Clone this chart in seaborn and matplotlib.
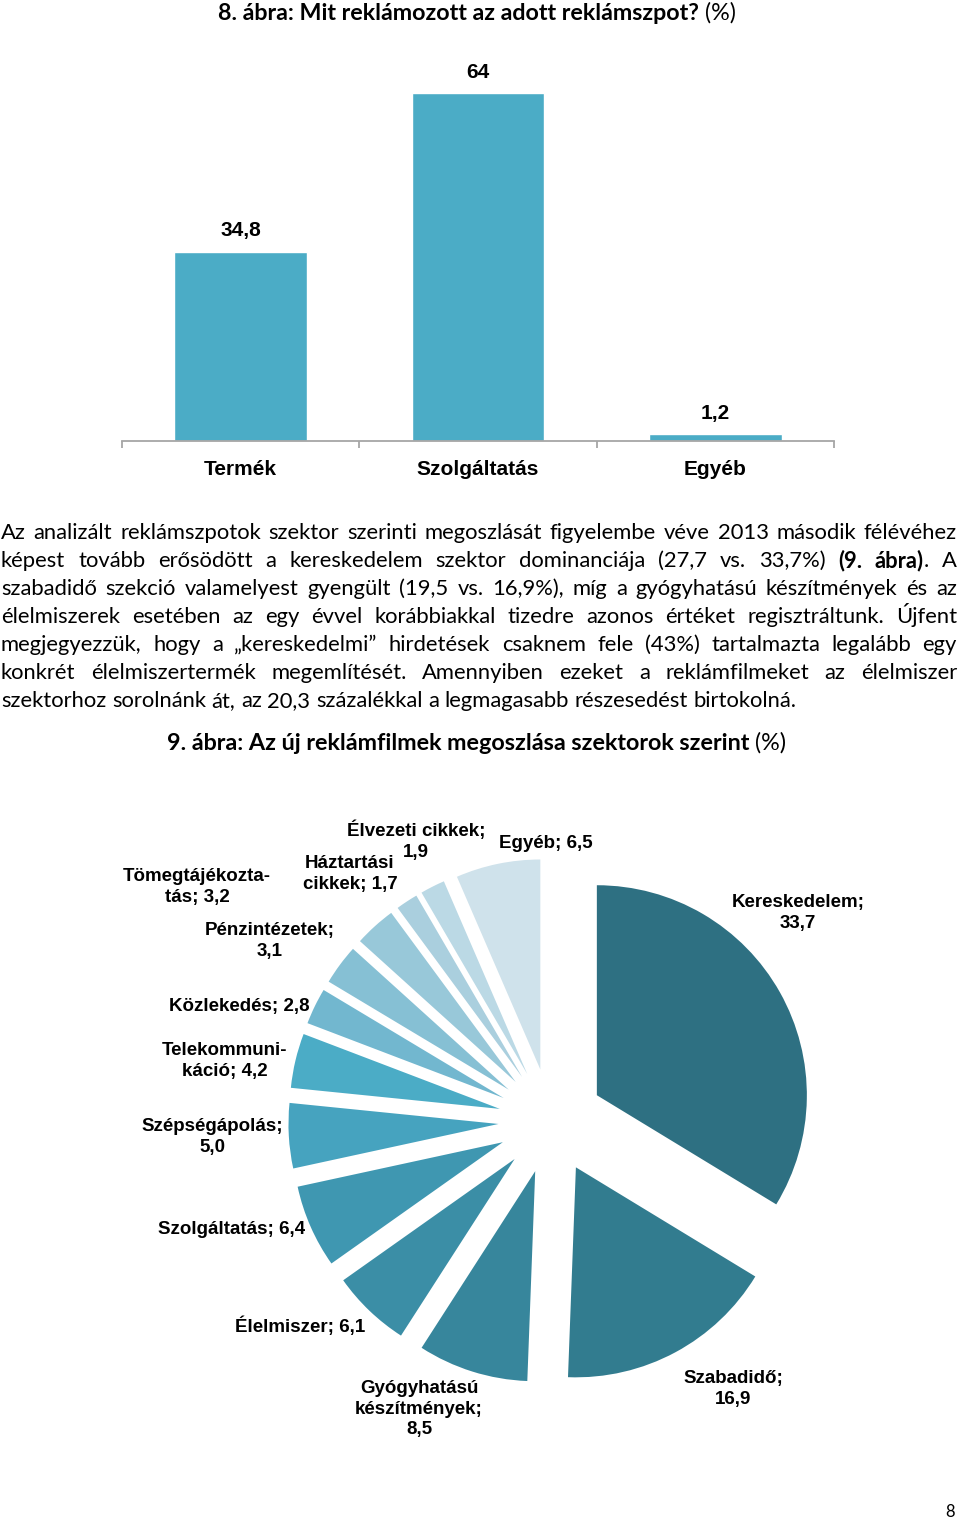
import matplotlib
matplotlib.use("Agg")
import matplotlib.pyplot as plt
import numpy as np
import pandas as pd
import seaborn as sns

# ---------------- data ----------------
bar_categories = ["Termék", "Szolgáltatás", "Egyéb"]
bar_values = [34.8, 64.0, 1.2]
bar_value_labels = ["34,8", "64", "1,2"]

pie_sectors = ["Kereskedelem", "Szabadidő", "Gyógyhatású\nkészítmények", "Élelmiszer",
               "Szolgáltatás", "Szépségápolás", "Telekommuni-\nkáció", "Közlekedés",
               "Pénzintézetek", "Tömegtájékozta-\ntás", "Háztartási\ncikkek",
               "Élvezeti cikkek", "Egyéb"]
pie_values = [33.7, 16.9, 8.5, 6.1, 6.4, 5.0, 4.2, 2.8, 3.1, 3.2, 1.7, 1.9, 6.5]
pie_value_labels = ["33,7", "16,9", "8,5", "6,1", "6,4", "5,0", "4,2", "2,8", "3,1",
                    "3,2", "1,7", "1,9", "6,5"]
pie_value_newline = [True, True, True, False, False, True, False, False, True,
                     False, False, True, False]

title1 = [("8. ábra: Mit reklámozott az adott reklámszpot?", "bold"), (" (%)", "normal")]
title2 = [("9. ábra: Az új reklámfilmek megoszlása szektorok szerint", "bold"), (" (%)", "normal")]

paragraph_lines = [
    "Az analizált reklámszpotok szektor szerinti megoszlását figyelembe véve 2013 második félévéhez",
    "képest tovább erősödött a kereskedelem szektor dominanciája (27,7 vs. 33,7%) **(9.** **ábra)**. A",
    "szabadidő szekció valamelyest gyengült (19,5 vs. 16,9%), míg a gyógyhatású készítmények és az",
    "élelmiszerek esetében az egy évvel korábbiakkal tizedre azonos értéket regisztráltunk. Újfent",
    "megjegyezzük, hogy a „kereskedelmi” hirdetések csaknem fele (43%) tartalmazta legalább egy",
    "konkrét élelmiszertermék megemlítését. Amennyiben ezeket a reklámfilmeket az élelmiszer",
    "szektorhoz sorolnánk át, az 20,3 százalékkal a legmagasabb részesedést birtokolná.",
]

# ---------------- style / layout ----------------
W, H = 960, 1519
sns.set_theme(style="white")
plt.rcParams['font.family'] = ['Liberation Sans', 'DejaVu Sans']
plt.rcParams['text.color'] = 'black'
plt.rcParams['xtick.color'] = 'black'
plt.rcParams['axes.labelcolor'] = 'black'

PARA_FONT = ['Lato', 'DejaVu Sans']
TITLE_FONT = ['Lato', 'DejaVu Sans']

pie_colors = ["#2E7082", "#327C8F", "#37869C", "#3B8EA6", "#3F97B1", "#46A3BF",
              "#4BACC6", "#72B7CF", "#86C0D4", "#98C8D9", "#AACFDE", "#BBD9E5", "#CFE2EB"]
pie_label_pos = [(798, 913), (733, 1389), (419, 1409), (300, 1326), (232, 1229),
                 (212, 1137), (225, 1061), (239, 1006), (270, 941), (197, 887),
                 (350, 874), (416, 841), (546, 844)]

fig = plt.figure(figsize=(W / 100, H / 100), dpi=100)
fig.patch.set_facecolor("white")
renderer = fig.canvas.get_renderer()


def fx(x):
    return x / W


def fy(y):
    return 1 - y / H


def measure(txt, size, weight, family):
    t = fig.text(0, 0, txt, fontsize=size, fontweight=weight, family=family)
    w = t.get_window_extent(renderer).width
    t.remove()
    return w


# ---------------- pie chart ----------------
ax_p = fig.add_axes([0, 0, 1, 1])
ax_p.pie(pie_values, colors=pie_colors, startangle=90, counterclock=False,
         radius=210, center=(551, H - 1121), explode=[52.6] * len(pie_values),
         wedgeprops=dict(linewidth=0))
ax_p.set_xlim(0, W)
ax_p.set_ylim(0, H)
ax_p.set_aspect("equal")
ax_p.axis("off")

for name, val, nl, (px, py) in zip(pie_sectors, pie_value_labels, pie_value_newline, pie_label_pos):
    lab = f"{name};\n{val}" if nl else f"{name}; {val}"
    ax_p.text(px, H - py, lab, ha="center", va="center", fontsize=13.5,
              fontweight="bold", linespacing=1.27, color="black")

# ---------------- bar chart ----------------
ax_b = fig.add_axes([fx(122), fy(441), 712 / W, (441 - 60.2) / H])
ax_b.patch.set_alpha(0)
df = pd.DataFrame({"cat": bar_categories, "val": bar_values})
sns.barplot(data=df, x="cat", y="val", color="#4BACC6", width=0.56,
            saturation=1, ax=ax_b)
ax_b.set_xlim(-0.5, 2.5)
ax_b.set_ylim(0, 70)
for s in ["top", "right", "left"]:
    ax_b.spines[s].set_visible(False)
ax_b.spines["bottom"].set_color("#A6A6A6")
ax_b.spines["bottom"].set_linewidth(1.3)
ax_b.set_yticks([])
ax_b.set_xlabel("")
ax_b.set_ylabel("")
ax_b.set_xticks([-0.5, 0.5, 1.5, 2.5])
ax_b.set_xticklabels([])
ax_b.tick_params(axis="x", which="major", length=5, width=1.3, color="#A6A6A6",
                 direction="out", bottom=True)
ax_b.set_xticks([0, 1, 2], minor=True)
ax_b.set_xticklabels(bar_categories, minor=True, fontsize=15, fontweight="bold",
                     color="black")
ax_b.tick_params(axis="x", which="minor", length=0, pad=13.5, bottom=True,
                 labelcolor="black")
for p, lab in zip(ax_b.patches, bar_value_labels):
    ax_b.annotate(lab, (p.get_x() + p.get_width() / 2, p.get_height()),
                  xytext=(0, 15), textcoords="offset points", ha="center",
                  va="center", fontsize=15, fontweight="bold", color="black")


# ---------------- titles ----------------
def draw_runs_centered(runs, cx, base_y, target_w):
    total10 = sum(measure(t, 10, w, TITLE_FONT) for t, w in runs)
    size = 10 * target_w / total10
    x = cx - target_w / 2
    for t, w in runs:
        fig.text(fx(x), fy(base_y), t, fontsize=size, fontweight=w,
                 family=TITLE_FONT, ha="left", va="baseline", color="black")
        x += measure(t, size, w, TITLE_FONT)


draw_runs_centered(title1, 478, 20, 520)
draw_runs_centered(title2, 478, 750, 622)

# ---------------- justified paragraph ----------------
plain_last = paragraph_lines[-1]
para_size = 10 * 797 / measure(plain_last, 10, "normal", PARA_FONT)


def parse_word(word):
    runs = []
    if word.startswith("**") and word.endswith("**"):
        runs.append((word[2:-2], "bold"))
    elif "**" in word:
        parts = word.split("**")
        bold = False
        for part in parts:
            if part:
                runs.append((part, "bold" if bold else "normal"))
            bold = not bold
    else:
        runs.append((word, "normal"))
    return runs


left, right = 1, 957
for i, line in enumerate(paragraph_lines):
    base_y = 539 + 28 * i
    words = [parse_word(w) for w in line.split(" ")]
    widths = [[measure(t, para_size, wt, PARA_FONT) for t, wt in wr] for wr in words]
    if i < len(paragraph_lines) - 1:
        gap = (right - left - sum(sum(w) for w in widths)) / (len(words) - 1)
    else:
        gap = measure("a b", para_size, "normal", PARA_FONT) - \
            measure("ab", para_size, "normal", PARA_FONT)
    x = left
    for wr, ws in zip(words, widths):
        for (t, wt), w in zip(wr, ws):
            fig.text(fx(x), fy(base_y), t, fontsize=para_size, fontweight=wt,
                     family=PARA_FONT, ha="left", va="baseline", color="black")
            x += w
        x += gap

# page number
fig.text(fx(950), fy(1517), "8", fontsize=12, family=PARA_FONT, ha="center",
         va="baseline", color="black")

fig.savefig("out.png", dpi=100, facecolor="white")
